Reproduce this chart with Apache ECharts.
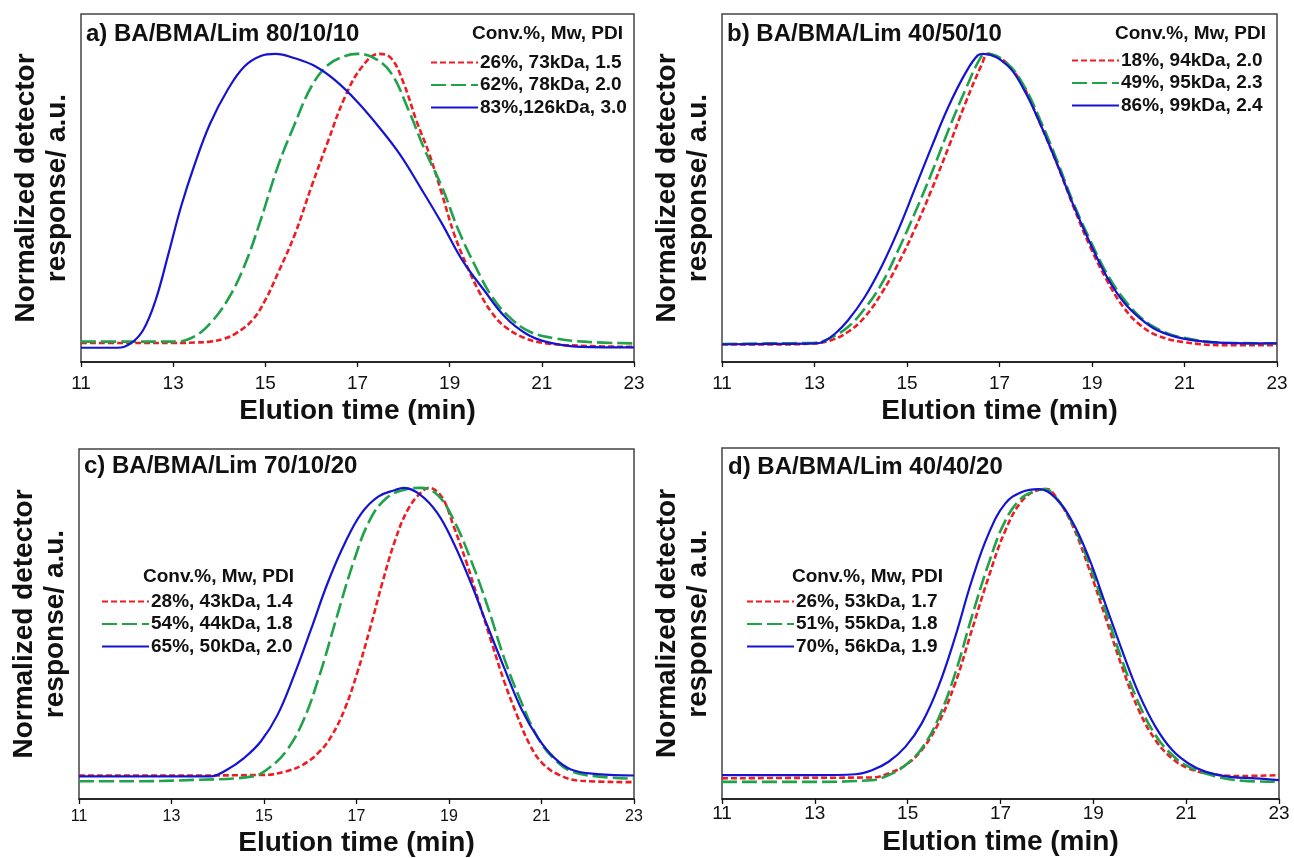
<!DOCTYPE html>
<html><head><meta charset="utf-8">
<script src="https://cdn.jsdelivr.net/npm/echarts@6.0.0/dist/echarts.min.js"></script>
<style>html,body{margin:0;padding:0;background:#fff}#c{width:1294px;height:858px}</style>
</head><body><div id="c"></div>
<script>
// ---- data ----
const xTicks = [11, 13, 15, 17, 19, 21, 23];
const panelTitles = ['a) BA/BMA/Lim 80/10/10', 'b) BA/BMA/Lim 40/50/10', 'c) BA/BMA/Lim 70/10/20', 'd) BA/BMA/Lim 40/40/20'];
const legendHeader = 'Conv.%, Mw, PDI';
const xTitle = 'Elution time (min)';
const yTitle = 'Normalized detector\nresponse/ a.u.';

const aLabels = ['26%, 73kDa, 1.5', '62%, 78kDa, 2.0', '83%,126kDa, 3.0'];
const bLabels = ['18%, 94kDa, 2.0', '49%, 95kDa, 2.3', '86%, 99kDa, 2.4'];
const cLabels = ['28%, 43kDa, 1.4', '54%, 44kDa, 1.8', '65%, 50kDa, 2.0'];
const dLabels = ['26%, 53kDa, 1.7', '51%, 55kDa, 1.8', '70%, 56kDa, 1.9'];

const aRed = [[11,0.007],[12,0.007],[13,0.007],[13.5,0.009],[13.8,0.012],[14.1,0.022],[14.36,0.04],[14.72,0.086],[15.0,0.155],[15.27,0.246],[15.64,0.38],[16.0,0.544],[16.36,0.70],[16.73,0.853],[17.1,0.956],[17.46,1.0],[17.73,0.985],[18.0,0.90],[18.28,0.77],[18.55,0.66],[18.83,0.52],[19.1,0.38],[19.38,0.27],[19.65,0.18],[19.92,0.11],[20.2,0.063],[20.65,0.023],[21.1,0.006],[22.0,-0.003],[23,-0.006]];
const aGreen = [[11,0.012],[12,0.012],[13.08,0.012],[13.45,0.029],[13.8,0.074],[14.18,0.155],[14.54,0.27],[14.9,0.43],[15.27,0.613],[15.64,0.76],[16.0,0.888],[16.36,0.962],[16.73,0.993],[17.0,1.0],[17.37,0.985],[17.73,0.934],[18.1,0.81],[18.46,0.67],[18.83,0.544],[19.19,0.395],[19.56,0.27],[19.92,0.166],[20.29,0.097],[20.74,0.046],[21.29,0.023],[22.0,0.011],[23,0.006]];
const aBlue = [[11,-0.009],[11.8,-0.009],[12.08,0.006],[12.35,0.052],[12.62,0.155],[12.9,0.315],[13.17,0.475],[13.45,0.613],[13.8,0.76],[14.18,0.876],[14.54,0.956],[14.9,0.993],[15.22,1.0],[15.64,0.985],[16.1,0.956],[16.55,0.905],[17.0,0.835],[17.46,0.75],[17.92,0.655],[18.37,0.54],[18.83,0.418],[19.28,0.29],[19.74,0.19],[20.2,0.097],[20.65,0.04],[21.1,0.011],[21.84,-0.006],[23,-0.008]];

const bRed = [[11,0.002],[12,0.002],[13,0.006],[13.36,0.017],[13.73,0.046],[14.09,0.097],[14.45,0.178],[14.81,0.28],[15.16,0.395],[15.53,0.533],[15.9,0.68],[16.26,0.83],[16.62,0.965],[16.75,1.0],[16.95,0.99],[17.16,0.968],[17.52,0.888],[17.88,0.76],[18.24,0.624],[18.6,0.475],[18.96,0.338],[19.32,0.223],[19.68,0.13],[20.04,0.069],[20.4,0.034],[20.95,0.011],[21.85,0.0],[23,0.0]];
const bGreen = [[11,0.004],[12,0.006],[13,0.008],[13.36,0.026],[13.73,0.063],[14.09,0.126],[14.45,0.21],[14.81,0.326],[15.16,0.45],[15.53,0.59],[15.9,0.74],[16.26,0.876],[16.6,0.99],[16.72,1.0],[17.16,0.968],[17.52,0.893],[17.88,0.773],[18.24,0.636],[18.6,0.487],[18.96,0.36],[19.32,0.246],[19.68,0.16],[20.04,0.097],[20.4,0.057],[20.95,0.026],[21.85,0.008],[23,0.006]];
const bBlue = [[11,0.003],[12,0.004],[13,0.006],[13.18,0.011],[13.45,0.04],[13.73,0.086],[14.09,0.166],[14.45,0.27],[14.81,0.395],[15.16,0.533],[15.53,0.68],[15.9,0.82],[16.26,0.933],[16.53,0.995],[16.65,1.0],[17.16,0.962],[17.52,0.88],[17.88,0.76],[18.24,0.624],[18.6,0.48],[18.96,0.35],[19.32,0.235],[19.68,0.149],[20.04,0.092],[20.4,0.052],[20.95,0.023],[21.85,0.008],[23,0.006]];

const cRed = [[11,0.009],[13,0.009],[15,0.011],[15.47,0.023],[15.84,0.046],[16.2,0.091],[16.47,0.148],[16.75,0.24],[17.02,0.365],[17.29,0.514],[17.56,0.674],[17.84,0.822],[18.11,0.925],[18.38,0.982],[18.56,1.0],[18.84,0.97],[19.1,0.868],[19.38,0.742],[19.65,0.605],[19.92,0.468],[20.2,0.33],[20.47,0.217],[20.75,0.114],[21.02,0.051],[21.38,0.011],[21.84,-0.009],[23,-0.014]];
const cGreen = [[11,-0.011],[12,-0.011],[13.5,-0.006],[14.75,0.006],[15.1,0.034],[15.47,0.091],[15.84,0.194],[16.2,0.354],[16.56,0.548],[16.93,0.742],[17.29,0.89],[17.65,0.965],[18.02,0.993],[18.38,1.0],[18.75,0.976],[19.1,0.89],[19.47,0.753],[19.83,0.594],[20.2,0.41],[20.56,0.263],[20.93,0.137],[21.29,0.063],[21.65,0.023],[22.2,0.006],[23,-0.002]];
const cBlue = [[11,0.006],[13,0.006],[13.84,0.006],[14.2,0.029],[14.56,0.068],[14.93,0.126],[15.29,0.217],[15.65,0.354],[16.02,0.514],[16.38,0.674],[16.75,0.81],[17.11,0.913],[17.47,0.97],[17.84,0.993],[18.02,1.0],[18.38,0.976],[18.75,0.913],[19.1,0.81],[19.47,0.674],[19.83,0.525],[20.2,0.377],[20.56,0.24],[20.93,0.137],[21.29,0.068],[21.65,0.029],[22.2,0.014],[23,0.009]];

const dRed = [[11,0.006],[13,0.008],[14.23,0.009],[14.59,0.023],[14.95,0.051],[15.3,0.103],[15.66,0.194],[16.02,0.331],[16.38,0.514],[16.74,0.696],[17.1,0.856],[17.46,0.959],[17.82,0.997],[18.0,1.0],[18.18,0.976],[18.54,0.879],[18.9,0.73],[19.26,0.56],[19.62,0.388],[19.98,0.24],[20.34,0.137],[20.7,0.074],[21.05,0.04],[21.6,0.02],[22.2,0.014],[23,0.017]];
const dGreen = [[11,-0.006],[13,-0.006],[14.23,0.0],[14.59,0.017],[14.95,0.051],[15.3,0.108],[15.66,0.211],[16.02,0.365],[16.38,0.56],[16.74,0.742],[17.1,0.89],[17.46,0.97],[17.82,0.997],[17.95,1.0],[18.18,0.973],[18.54,0.885],[18.9,0.748],[19.26,0.582],[19.62,0.411],[19.98,0.263],[20.34,0.154],[20.7,0.086],[21.05,0.046],[21.6,0.014],[22.2,-0.002],[23,-0.006]];
const dBlue = [[11,0.017],[13,0.017],[13.87,0.02],[14.23,0.034],[14.59,0.063],[14.95,0.114],[15.3,0.194],[15.66,0.32],[16.02,0.49],[16.38,0.685],[16.74,0.845],[17.1,0.95],[17.46,0.99],[17.82,1.0],[18.18,0.97],[18.54,0.89],[18.9,0.765],[19.26,0.605],[19.62,0.445],[19.98,0.297],[20.34,0.183],[20.7,0.103],[21.05,0.057],[21.41,0.029],[21.95,0.011],[22.5,0.006],[23,0.0]];

// ---- layout / styles ----
const FONT = '"Liberation Sans", Arial, sans-serif';
const COLORS = ['#ee1d23', '#1fa34a', '#1414d2'];
const LSTYLES = [
  {width: 2.6, type: [6, 3]},
  {width: 2.6, type: [15, 5]},
  {width: 2.2, type: 'solid'}
];
const panels = [
  {labels: aLabels, data: [aRed, aGreen, aBlue], grid: {left: 81, top: 14, width: 553, height: 348}, ymin: -0.058, ymax: 1.137,
   tick: 19, tickMargin: 12, nameGap: 35, legend: {left: 430, top: 53}, header: {left: 472, top: 24}, title: {left: 86, top: 22}},
  {labels: bLabels, data: [bRed, bGreen, bBlue], grid: {left: 722, top: 14, width: 555, height: 348}, ymin: -0.058, ymax: 1.137,
   tick: 19, tickMargin: 12, nameGap: 35, legend: {left: 1071, top: 51}, header: {left: 1115, top: 24}, title: {left: 727, top: 22}},
  {labels: cLabels, data: [cRed, cGreen, cBlue], grid: {left: 79, top: 449, width: 555, height: 352}, ymin: -0.072, ymax: 1.134,
   tick: 16, tickMargin: 10, nameGap: 30, legend: {left: 101, top: 592}, header: {left: 143, top: 567}, title: {left: 84, top: 454}},
  {labels: dLabels, data: [dRed, dGreen, dBlue], grid: {left: 722, top: 448, width: 557, height: 351}, ymin: -0.065, ymax: 1.141,
   tick: 19, tickMargin: 5, nameGap: 29, legend: {left: 746, top: 592}, header: {left: 792, top: 567}, title: {left: 728, top: 455}}
];

const grids = [], xAxes = [], yAxes = [], series = [], legends = [], titles = [];
panels.forEach((p, i) => {
  grids.push(Object.assign({show: true, borderColor: '#444', borderWidth: 1.5, backgroundColor: 'transparent'}, p.grid));
  xAxes.push({
    type: 'value', gridIndex: i, min: xTicks[0], max: xTicks[xTicks.length - 1], interval: xTicks[1] - xTicks[0],
    axisLine: {show: true, onZero: false, lineStyle: {color: '#111', width: 1.5}},
    axisTick: {show: true, inside: false, length: 5, lineStyle: {color: '#111', width: 1.3}},
    axisLabel: {fontFamily: FONT, fontSize: p.tick, color: '#111', margin: p.tickMargin},
    splitLine: {show: false},
    name: xTitle, nameLocation: 'middle', nameGap: p.nameGap,
    nameTextStyle: {fontFamily: FONT, fontSize: 28, fontWeight: 'bold', color: '#111'}
  });
  yAxes.push({
    type: 'value', gridIndex: i, min: p.ymin, max: p.ymax,
    axisLine: {show: false}, axisTick: {show: false}, axisLabel: {show: false}, splitLine: {show: false},
    name: yTitle, nameLocation: 'middle', nameRotate: 90, nameGap: 8,
    nameTextStyle: {fontFamily: FONT, fontSize: 28, fontWeight: 'bold', color: '#111', lineHeight: 31, align: 'center'}
  });
  p.data.forEach((d, k) => {
    series.push({
      type: 'line', name: p.labels[k], xAxisIndex: i, yAxisIndex: i, data: d,
      showSymbol: false, symbol: 'none', smooth: 0.4, z: 3 + k,
      lineStyle: Object.assign({color: COLORS[k]}, LSTYLES[k]), itemStyle: {color: COLORS[k]}
    });
  });
  legends.push({
    data: p.labels, orient: 'vertical', left: p.legend.left, top: p.legend.top, padding: 0,
    itemWidth: 47, itemHeight: 14, itemGap: 3.5, selectedMode: false,
    itemStyle: {opacity: 0},
    textStyle: {fontFamily: FONT, fontSize: 19, fontWeight: 'bold', color: '#111', lineHeight: 19, padding: [0, 0, 0, -3]}
  });
  titles.push({text: panelTitles[i], left: p.title.left, top: p.title.top, padding: 0,
    textStyle: {fontFamily: FONT, fontSize: 24, fontWeight: 'bold', color: '#111'}});
  titles.push({text: legendHeader, left: p.header.left, top: p.header.top, padding: 0,
    textStyle: {fontFamily: FONT, fontSize: 19, fontWeight: 'bold', color: '#111'}});
});

const chart = echarts.init(document.getElementById('c'), null, {renderer: 'canvas'});
chart.setOption({
  animation: false, backgroundColor: '#fff',
  title: titles, grid: grids, xAxis: xAxes, yAxis: yAxes, legend: legends, series: series
});
</script></body></html>
